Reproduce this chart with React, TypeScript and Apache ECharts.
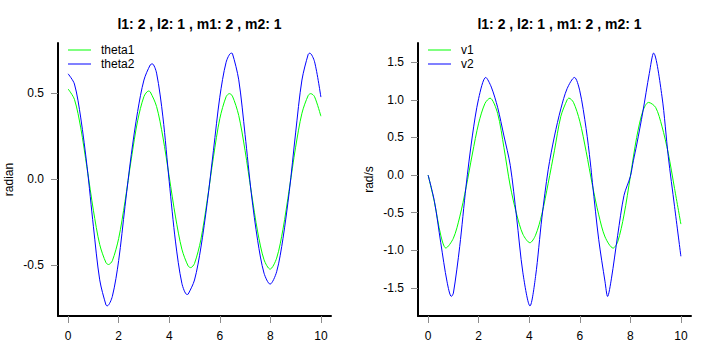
import React, { useEffect, useRef } from "react";
import * as echarts from "echarts";

const panelTitle = "l1: 2 , l2: 1 , m1: 2 , m2: 1";
const xTicks = [0, 2, 4, 6, 8, 10];
const thetaTicks = [-0.5, 0, 0.5];
const velTicks = [-1.5, -1, -0.5, 0, 0.5, 1, 1.5];

const tTheta1 = [0, 0.25, 0.5, 0.75, 1, 1.25, 1.5, 1.6, 1.75, 2, 2.25, 2.5, 2.75, 3, 3.18, 3.25, 3.5, 3.75, 4, 4.25, 4.5, 4.75, 4.85, 5, 5.25, 5.5, 5.75, 6, 6.25, 6.38, 6.5, 6.75, 7, 7.25, 7.5, 7.75, 7.99, 8.25, 8.5, 8.75, 9, 9.25, 9.5, 9.6, 9.75, 10];
const theta1 = [0.523, 0.463, 0.297, 0.063, -0.181, -0.38, -0.486, -0.496, -0.474, -0.345, -0.131, 0.117, 0.338, 0.479, 0.511, 0.506, 0.421, 0.244, 0.013, -0.22, -0.407, -0.505, -0.514, -0.49, -0.353, -0.127, 0.129, 0.35, 0.478, 0.496, 0.482, 0.369, 0.166, -0.078, -0.307, -0.468, -0.523, -0.459, -0.291, -0.058, 0.185, 0.382, 0.486, 0.496, 0.478, 0.365];

const tTheta2 = [0, 0.25, 0.5, 0.75, 1, 1.25, 1.5, 1.55, 1.75, 2, 2.25, 2.5, 2.75, 3, 3.25, 3.33, 3.5, 3.75, 4, 4.25, 4.5, 4.7, 4.75, 5, 5.25, 5.5, 5.75, 6, 6.25, 6.45, 6.5, 6.75, 7, 7.25, 7.5, 7.75, 7.99, 8.25, 8.5, 8.75, 9, 9.25, 9.5, 9.56, 9.75, 10];
const theta2 = [0.611, 0.552, 0.355, 0.072, -0.274, -0.585, -0.732, -0.736, -0.681, -0.473, -0.159, 0.143, 0.392, 0.575, 0.663, 0.669, 0.615, 0.361, -0.015, -0.365, -0.605, -0.67, -0.668, -0.586, -0.4, -0.141, 0.167, 0.475, 0.678, 0.731, 0.729, 0.576, 0.259, -0.086, -0.358, -0.546, -0.61, -0.538, -0.345, -0.072, 0.268, 0.575, 0.725, 0.731, 0.681, 0.476];

const tV1 = [0, 0.25, 0.5, 0.7, 1, 1.25, 1.5, 1.75, 2, 2.25, 2.45, 2.75, 3, 3.25, 3.5, 3.75, 4.03, 4.25, 4.5, 4.75, 5, 5.25, 5.5, 5.57, 5.75, 6, 6.25, 6.5, 6.75, 7, 7.32, 7.5, 7.75, 8, 8.25, 8.5, 8.72, 9, 9.25, 9.5, 9.75, 10];
const v1 = [0, -0.36, -0.8, -0.97, -0.84, -0.557, -0.169, 0.28, 0.69, 0.953, 1.023, 0.82, 0.364, -0.146, -0.518, -0.787, -0.9, -0.8, -0.52, -0.11, 0.33, 0.78, 1.0, 1.023, 0.967, 0.716, 0.316, -0.135, -0.529, -0.823, -0.971, -0.888, -0.53, -0.02, 0.5, 0.857, 0.966, 0.9, 0.65, 0.29, -0.18, -0.652];

const tV2 = [0, 0.25, 0.5, 0.75, 0.92, 1, 1.25, 1.5, 1.75, 2, 2.28, 2.5, 2.75, 3, 3.25, 3.5, 3.75, 4.03, 4.25, 4.5, 4.75, 5, 5.25, 5.5, 5.79, 6, 6.25, 6.42, 6.5, 6.75, 7, 7.1, 7.25, 7.5, 7.75, 8, 8.12, 8.25, 8.5, 8.75, 8.92, 9.25, 9.5, 9.75, 10];
const v2 = [0, -0.35, -0.9, -1.42, -1.614, -1.57, -0.95, -0.15, 0.52, 1.02, 1.298, 1.17, 0.9, 0.52, 0.13, -0.56, -1.3, -1.74, -1.35, -0.57, 0.07, 0.52, 0.88, 1.15, 1.298, 1.12, 0.62, 0.16, -0.1, -0.86, -1.42, -1.614, -1.38, -0.8, -0.27, -0.02, 0.19, 0.4, 0.85, 1.35, 1.622, 1.05, 0.25, -0.42, -1.08];

const FONT = "'Liberation Sans', Arial, Helvetica, sans-serif";
const GREEN = "#00ff00";
const BLUE = "#0000ff";

const pairs = (t: number[], v: number[]) => t.map((x, i) => [x, v[i]]);

function xAxisFor(gridIndex: number) {
  return {
    type: "value",
    gridIndex,
    min: -0.4,
    max: 10.4,
    axisLine: { show: true, onZero: false, lineStyle: { color: "#000", width: 2 } },
    axisTick: { show: true, customValues: xTicks, length: 7, lineStyle: { color: "#8c8c8c", width: 1 } },
    axisLabel: { customValues: xTicks, margin: 14, color: "#000", fontSize: 12, fontFamily: FONT },
    splitLine: { show: false },
  };
}

function yAxisFor(gridIndex: number, min: number, max: number, ticks: number[], name: string) {
  return {
    type: "value",
    gridIndex,
    min,
    max,
    name,
    nameLocation: "middle",
    nameGap: 43,
    nameTextStyle: { color: "#000", fontSize: 12, fontFamily: FONT },
    axisLine: { show: true, onZero: false, lineStyle: { color: "#000", width: 2 } },
    axisTick: { show: true, customValues: ticks, length: 7, lineStyle: { color: "#8c8c8c", width: 1 } },
    axisLabel: {
      customValues: ticks,
      margin: 14,
      color: "#000",
      fontSize: 12,
      fontFamily: FONT,
      formatter: (v: number) => v.toFixed(1),
    },
    splitLine: { show: false },
  };
}

function lineSeries(name: string, data: number[][], color: string, axisIndex: number) {
  return {
    name,
    type: "line",
    xAxisIndex: axisIndex,
    yAxisIndex: axisIndex,
    data,
    symbol: "none",
    showSymbol: false,
    smooth: 0.3,
    color,
    lineStyle: { color, width: 1 },
  };
}

function legendFor(left: number, names: string[]) {
  return {
    orient: "vertical",
    left,
    top: 44,
    padding: 0,
    icon: "rect",
    itemWidth: 23,
    itemHeight: 1,
    itemGap: 2,
    data: names,
    textStyle: { color: "#000", fontSize: 12, fontFamily: FONT, padding: [0, 0, 0, 5] },
  };
}

export default function App() {
  const ref = useRef<HTMLDivElement>(null);
  useEffect(() => {
    document.body.style.margin = "0";
    const chart = echarts.init(ref.current!, null, { renderer: "svg" });
    chart.setOption({
      animation: false,
      backgroundColor: "#ffffff",
      title: [
        {
          text: panelTitle,
          left: 194.5,
          top: 12,
          textAlign: "center",
          textStyle: { fontSize: 14, fontWeight: "bold", color: "#000", fontFamily: FONT },
        },
        {
          text: panelTitle,
          left: 554.5,
          top: 12,
          textAlign: "center",
          textStyle: { fontSize: 14, fontWeight: "bold", color: "#000", fontFamily: FONT },
        },
      ],
      legend: [legendFor(68, ["theta1", "theta2"]), legendFor(428, ["v1", "v2"])],
      grid: [
        { left: 58, top: 43, width: 273, height: 273 },
        { left: 418, top: 43, width: 273, height: 273 },
      ],
      xAxis: [xAxisFor(0), xAxisFor(1)],
      yAxis: [
        yAxisFor(0, -0.795, 0.79, thetaTicks, "radian"),
        yAxisFor(1, -1.874, 1.756, velTicks, "rad/s"),
      ],
      series: [
        lineSeries("theta1", pairs(tTheta1, theta1), GREEN, 0),
        lineSeries("theta2", pairs(tTheta2, theta2), BLUE, 0),
        lineSeries("v1", pairs(tV1, v1), GREEN, 1),
        lineSeries("v2", pairs(tV2, v2), BLUE, 1),
      ],
    });
    return () => chart.dispose();
  }, []);
  return <div ref={ref} style={{ width: 720, height: 360 }} />;
}
